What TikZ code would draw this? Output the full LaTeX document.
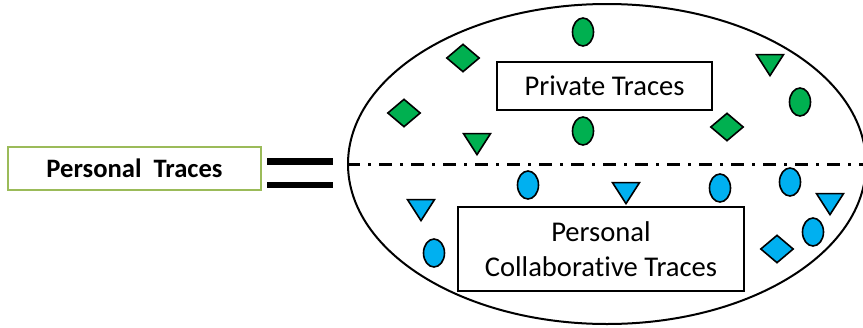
\documentclass[tikz,border=0pt]{standalone}
\usepackage{fontspec}
\setmainfont{Carlito}[Ligatures=NoCommon]
\usepackage{tikz}
\usetikzlibrary{shapes.geometric}
\usetikzlibrary{positioning}
\definecolor{boxgreen}{HTML}{9BBB59}
\definecolor{tracegreen}{HTML}{00B050}
\definecolor{traceblue}{HTML}{00B0F0}
\tikzstyle{every node}+=[inner sep=0pt]
\tikzstyle{block} = [rectangle, draw, line width=1pt, font=\fontsize{14.3}{17.5}\selectfont, align=center]
\tikzstyle{dot} = [ellipse, draw, line width=0.8pt, minimum width=10.5pt, minimum height=14pt]
\tikzstyle{gem} = [diamond, draw, line width=0.8pt, minimum width=16.5pt, minimum height=14pt]
\tikzstyle{tri} = [isosceles triangle, isosceles triangle stretches, shape border rotate=270, draw, line width=0.8pt, minimum width=13.5pt, minimum height=10.5pt]
\tikzstyle{priv} = [fill=tracegreen]
\tikzstyle{coll} = [fill=traceblue]
\tikzstyle{eqbar} = [draw, line width=3.2pt]

\begin{document}
\begin{tikzpicture}[x=0.5pt, y=-0.5pt]
            \useasboundingbox (0,0) rectangle (863,327);
            % Place nodes
            \node [draw, ellipse, line width=1pt, minimum width=259pt, minimum height=160pt] (traces) at (607,164) {};
            \node [block, draw=boxgreen, line width=1.2pt, font=\fontsize{13.3}{15}\selectfont\bfseries, minimum width=126.5pt, minimum height=21.5pt] (personal) at (134.5,168.5) {Personal\ \ Traces};
            \node [block, minimum width=107.5pt, minimum height=24pt] (private) at (604.5,86) {Private Traces};
            \node [block, minimum width=143pt, minimum height=42pt] (collab) at (601,249) {Personal\\Collaborative Traces};
            % Private traces
            \node [dot, priv] (g1) at (583,32) {};
            \node [dot, priv] (g2) at (583,131) {};
            \node [dot, priv] (g3) at (800,102) {};
            \node [gem, priv] (g4) at (463,58) {};
            \node [gem, priv] (g5) at (404,113) {};
            \node [gem, priv] (g6) at (727,127) {};
            \node [tri, priv] (g7) at (477,141) {};
            \node [tri, priv] (g8) at (770,62) {};
            % Collaborative traces
            \node [dot, coll] (b1) at (528,185) {};
            \node [dot, coll] (b2) at (720,188) {};
            \node [dot, coll] (b3) at (790,182) {};
            \node [dot, coll] (b4) at (813,232) {};
            \node [dot, coll] (b5) at (434,253) {};
            \node [tri, coll] (b6) at (421,207) {};
            \node [tri, coll] (b7) at (626,190) {};
            \node [tri, coll] (b8) at (830,201) {};
            \node [gem, coll] (b9) at (777,249) {};
            % Draw lines
            \draw [dash pattern=on 6.5pt off 4pt on 1.5pt off 4pt, line width=1.5pt] (traces.west) -- (traces.east);
            \path [eqbar] (267,161.5) -- (333,161.5);
            \path [eqbar] (267,185) -- (333,185);
          \end{tikzpicture}
\end{document}
